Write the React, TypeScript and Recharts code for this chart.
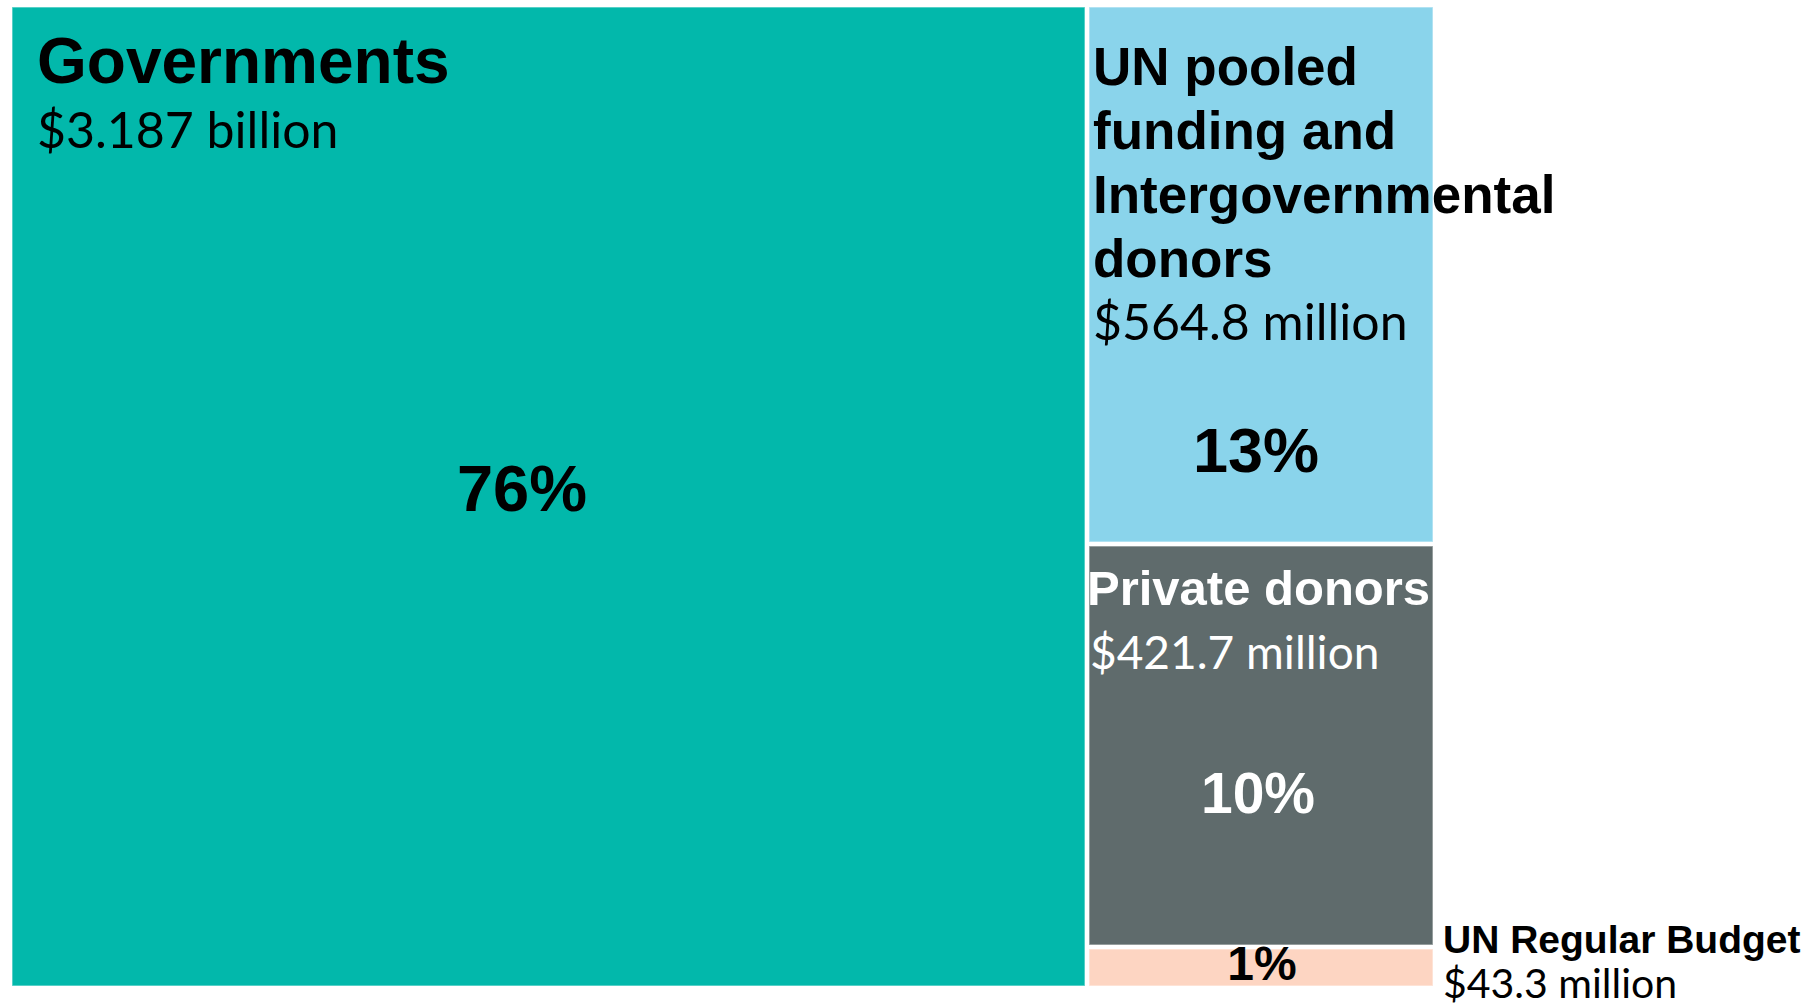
import React from 'react';
import { Treemap } from 'recharts';

// Funding sources (USD million)
const sources = ['Governments', 'UN pooled funding and Intergovernmental donors', 'Private donors', 'UN Regular Budget'];
const amounts = [3187, 564.8, 421.7, 43.3];
const amountLabels = ['$3.187 billion', '$564.8 million', '$421.7 million', '$43.3 million'];
const titleLines = [
  ['Governments'],
  ['UN pooled', 'funding and', 'Intergovernmental', 'donors'],
  ['Private donors'],
  ['UN Regular Budget'],
];
const fills = ['#02B8AB', '#8AD4EB', '#5F6B6C', '#FDD5C2'];

const total = amounts.reduce((s, v) => s + v, 0);

const treeData = sources.map((name, i) => ({
  name,
  value: amounts[i],
  idx: i,
}));

// label placement relative to each cell (styling only)
const labelStyle = [
  { tx: 27, ty: 78, ts: 64, lh: 64, vx: 27, vy: 143, vs: 50, px: 512, py: 506, ps: 65, color: '#000' },
  { tx: 6, ty: 80, ts: 53, lh: 64, vx: 6, vy: 335, vs: 50, px: 169, py: 467, ps: 63, color: '#000' },
  { tx: 0, ty: 61, ts: 49, lh: 64, vx: 3, vy: 125, vs: 46, px: 171, py: 269, ps: 57, color: '#fff' },
  { tx: 356, ty: 6, ts: 39, lh: 44, vx: 356, vy: 51, vs: 41, px: 175, py: 33, ps: 48, color: '#000', pcolor: '#000' },
];

const BOLD = '"Liberation Sans", Arial, sans-serif';
const LATO = 'Lato, sans-serif';

const Cell = (props: any) => {
  const { x, y, width, height, depth, idx } = props;
  if (depth !== 1 || idx === undefined) return null;
  const st = labelStyle[idx];
  const pct = Math.round((amounts[idx] / total) * 100);
  return (
    <g>
      <rect
        x={x + 2}
        y={y + 2}
        width={Math.max(0, width - 4)}
        height={Math.max(0, height - 4)}
        fill={fills[idx]}
        stroke="rgba(255,255,255,0.45)"
        strokeWidth={1.5}
      />
      {titleLines[idx].map((line, k) => (
        <text
          key={k}
          x={x + st.tx}
          y={y + st.ty + k * st.lh}
          fontFamily={BOLD}
          fontWeight="bold"
          fontSize={st.ts}
          fill={st.color}
        >
          {line}
        </text>
      ))}
      <text x={x + st.vx} y={y + st.vy} fontFamily={LATO} fontSize={st.vs} fill={st.color}>
        {amountLabels[idx]}
      </text>
      <text
        x={x + st.px}
        y={y + st.py}
        textAnchor="middle"
        fontFamily={BOLD}
        fontWeight="bold"
        fontSize={st.ps}
        fill={st.pcolor || st.color}
      >
        {pct}%
      </text>
    </g>
  );
};

export default function App() {
  return (
    <div style={{ position: 'absolute', left: 10, top: 5 }}>
      <style>{'.recharts-surface{overflow:visible}'}</style>
      <Treemap
        width={1425}
        height={983}
        data={treeData}
        dataKey="value"
        nameKey="name"
        content={Cell as any}
        isAnimationActive={false}
      />
    </div>
  );
}
